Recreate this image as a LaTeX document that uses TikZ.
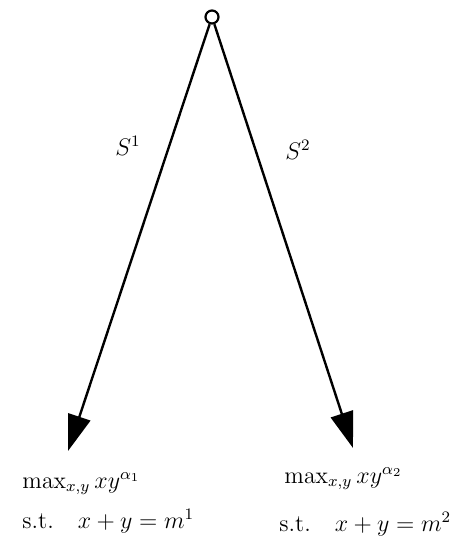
\documentclass[tikz,border=0pt]{standalone}
\usetikzlibrary{arrows.meta}
\begin{document}
\begin{tikzpicture}[x=0.5pt,y=-0.5pt,
  edge/.style={line width=1.2pt,-{Triangle[length=18pt,width=11.5pt]}},
  lbl/.style={inner sep=0pt,font=\fontsize{12}{14}\selectfont},
  txt/.style={inner sep=0pt,anchor=base west,font=\fontsize{12}{14}\selectfont}]
\useasboundingbox (0,0) rectangle (462,544);
\node[circle,draw,line width=1.1pt,minimum size=6.5pt,inner sep=0pt] (top) at (212,17) {};
\coordinate (L) at (68,451);
\coordinate (R) at (353,448);
\draw[edge] (top) -- (L);
\draw[edge] (top) -- (R);
\node[lbl] (s1) at (128,146) {$S^1$};
\node[lbl] (s2) at (298,150) {$S^2$};
\node[txt] (m1) at (22,488) {$\max_{x,y} xy^{\alpha_1}$};
\node[txt] (c1) at (22,528) {s.t.\quad $x+y=m^1$};
\node[txt] (m2) at (284,483) {$\max_{x,y} xy^{\alpha_2}$};
\node[txt] (c2) at (279,531) {s.t.\quad $x+y=m^2$};
\end{tikzpicture}
\end{document}
